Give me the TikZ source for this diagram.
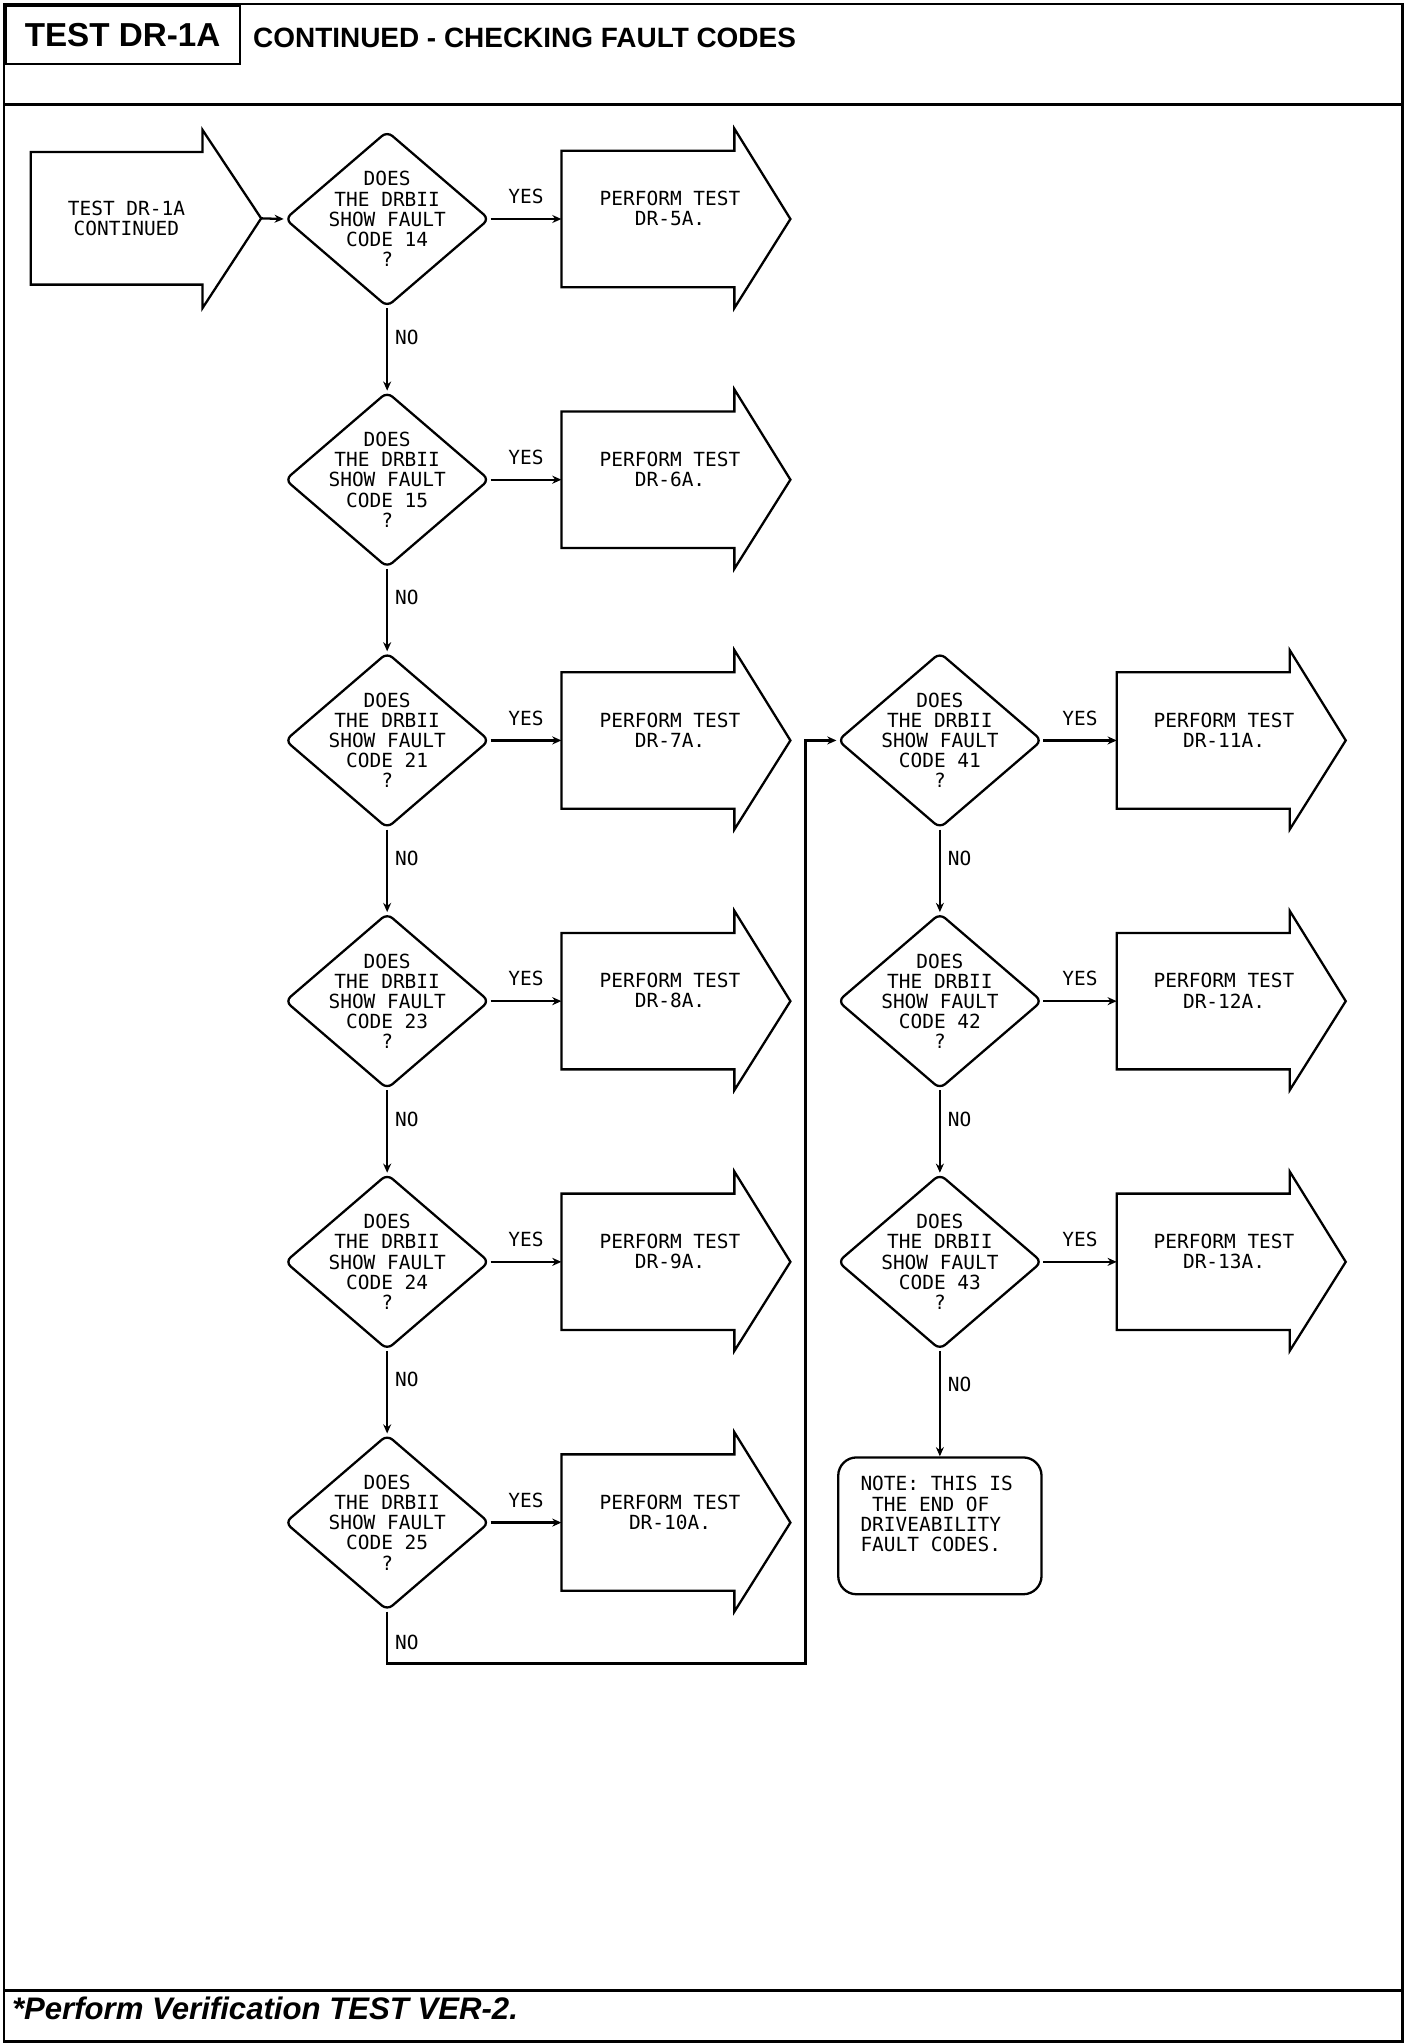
\documentclass[tikz,border=0pt]{standalone}
\usepackage{fontspec}
\setmainfont{Liberation Sans}
\newfontfamily\plotfont{DejaVu Sans Mono}
\usetikzlibrary{arrows.meta, positioning, shapes.geometric, calc}

\tikzset{
  plotter/.style={font=\plotfont\fontsize{8.5}{8.8}\selectfont, inner sep=1pt, align=center},
  flowline/.style={line width=1pt},
  question/.style={diamond, draw, flowline, plotter, aspect=1.163, inner sep=-4pt,
    minimum width=3.14cm, minimum height=2.7cm, rounded corners=3pt},
  testbody/.style={rectangle, minimum width=2.64cm, minimum height=2.08cm, inner sep=0pt},
  notebox/.style={rectangle, draw, flowline, rounded corners=8pt, minimum width=3.12cm, minimum height=2.1cm},
  arr/.style={flowline, -{Stealth[length=4pt, width=3.5pt]}}
}

\begin{document}
\begin{tikzpicture}[x=0.02cm, y=-0.02cm]
\useasboundingbox (0,0) rectangle (1080,1568);
% frame, header and footer
\draw[line width=1.2pt] (3,3) rectangle (1076,1566);
\draw[line width=1.2pt] (3,80) -- (1076,80);
\draw[line width=1.2pt] (3,1527) -- (1076,1527);
\node[draw, line width=1.2pt, anchor=north west, minimum width=3.6cm, minimum height=0.9cm,
  font=\bfseries\fontsize{14.5}{16}\selectfont] (title) at (3,3) {TEST DR-1A};
\node[anchor=west, font=\bfseries\fontsize{12.2}{14}\selectfont] (subtitle) at (188,29) {CONTINUED - CHECKING FAULT CODES};
\node[anchor=west, font=\bfseries\itshape\fontsize{13.6}{15}\selectfont] (footer) at (3,1541) {*Perform Verification TEST VER-2.};

% start
\node[testbody, minimum width=2.62cm, minimum height=2.02cm] (start) at (89.5,167.5) {};
\node[plotter] (starttext) at (97,167.5) {TEST DR-1A\\CONTINUED};
\draw[flowline] (start.north east) -- (start.north west) -- (start.south west) -- (start.south east)
  -- ++(0,18) -- ($(start.east)+(45,0)$) coordinate (starttip) -- ($(start.north east)+(0,-17)$) -- cycle;

% left column
\foreach \y/\code/\test in {168/14/5A, 368/15/6A, 568/21/7A, 768/23/8A, 968/24/9A, 1168/25/10A} {
  \node[question] (d\code) at (297,\y) {DOES\\THE DRBII\\SHOW FAULT\\CODE \code\\?};
  \node[testbody] (t\code) at (497,\y) {};
  \node[plotter] (l\code) at (514,\y-8) {PERFORM TEST\\DR-\test.};
  \draw[arr] (d\code.east) -- node[plotter, above=5pt] (yes\code) {YES} (t\code.west);
}
% right column
\foreach \y/\code/\test in {568/41/11A, 768/42/12A, 968/43/13A} {
  \node[question] (d\code) at (721,\y) {DOES\\THE DRBII\\SHOW FAULT\\CODE \code\\?};
  \node[testbody] (t\code) at (923,\y) {};
  \node[plotter] (l\code) at (939,\y-8) {PERFORM TEST\\DR-\test.};
  \draw[arr] (d\code.east) -- node[plotter, above=5pt] (yes\code) {YES} (t\code.west);
}
\draw[arr] (starttip) -- (d14.west);

% arrow outlines
\foreach \b in {14,15,21,23,24,25,41,42,43}
  \draw[flowline] (t\b.north east) -- (t\b.north west) -- (t\b.south west) -- (t\b.south east)
    -- ++(0,16) -- ($(t\b.east)+(43,0)$) -- ($(t\b.north east)+(0,-17)$) -- cycle;

% no branches
\foreach \a/\b in {14/15, 15/21, 21/23, 23/24, 24/25, 41/42, 42/43}
  \draw[arr] (d\a.south) -- node[plotter, right=2pt, pos=0.35] (no\a) {NO} (d\b.north);

\coordinate (loopbot) at (618,1276);
\draw[arr] (d25.south) |- node[plotter, right=2pt, pos=0.3] (no25) {NO} (loopbot) |- (d41.west);

% end note
\node[notebox] (note) at (721,1170.5) {};
\node[plotter, align=left, anchor=west] (notetext) at (658,1161.5) {NOTE: THIS IS\\~THE END OF\\DRIVEABILITY\\FAULT CODES.};
\draw[arr] (d43.south) -- node[plotter, right=2pt, pos=0.32] (no43) {NO} (note.north);
\end{tikzpicture}
\end{document}
